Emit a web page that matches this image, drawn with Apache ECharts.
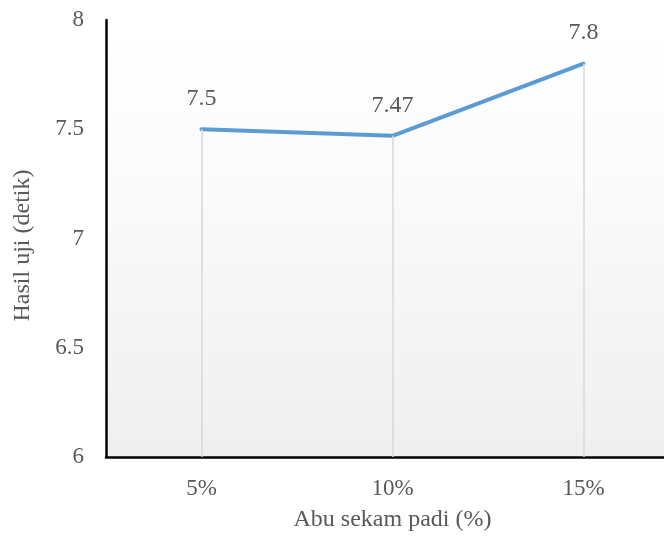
<!DOCTYPE html>
<html>
<head>
<meta charset="utf-8">
<script src="https://cdn.jsdelivr.net/npm/echarts@6/dist/echarts.min.js"></script>
<style>
  html, body { margin: 0; padding: 0; background: #ffffff; }
  #chart { width: 664px; height: 536px; }
</style>
</head>
<body>
<div id="chart"></div>
<script>
// Ash content of rice husk vs. test result
const categories = ['5%', '10%', '15%'];
const values = [7.5, 7.47, 7.8];
const yTicks = { min: 6, max: 8, interval: 0.5 };

const FONT = '"Liberation Serif", "Times New Roman", serif';
const TEXT = '#595959';

const chart = echarts.init(document.getElementById('chart'), null, { renderer: 'canvas' });

// vertical guide lines from each point down to the axis
const dropLines = values.map((v, i) => [
  { coord: [i, v] },
  { coord: [i, yTicks.min] }
]);

chart.setOption({
  animation: false,
  grid: {
    left: 106, width: 573, top: 20, height: 437,
    outerBoundsMode: 'none',
    containLabel: false,
    show: true,
    borderWidth: 0,
    backgroundColor: new echarts.graphic.LinearGradient(0, 0, 0, 1, [
      { offset: 0, color: '#ffffff' },
      { offset: 0.35, color: '#fbfbfb' },
      { offset: 1, color: '#efefef' }
    ])
  },
  xAxis: {
    type: 'category',
    data: categories,
    boundaryGap: true,
    name: 'Abu sekam padi (%)',
    nameLocation: 'middle',
    nameGap: 51,
    nameTextStyle: { fontFamily: FONT, fontSize: 24, color: TEXT },
    axisLine: { show: true, lineStyle: { color: '#000000', width: 2.5 } },
    axisTick: { show: false },
    axisLabel: { fontFamily: FONT, fontSize: 23, color: TEXT, margin: 20 },
    splitLine: { show: false }
  },
  yAxis: {
    type: 'value',
    min: yTicks.min, max: yTicks.max, interval: yTicks.interval,
    name: 'Hasil uji (detik)',
    nameLocation: 'middle',
    nameGap: 71,
    nameTextStyle: { fontFamily: FONT, fontSize: 24, color: TEXT, padding: [0, 14, 0, 0] },
    axisLine: { show: true, lineStyle: { color: '#000000', width: 2.5 } },
    axisTick: { show: false },
    axisLabel: { fontFamily: FONT, fontSize: 23, color: TEXT, margin: 22 },
    splitLine: { show: false }
  },
  series: [
    {
      type: 'line',
      data: [],
      z: 1,
      markLine: {
        silent: true,
        symbol: ['none', 'none'],
        label: { show: false },
        lineStyle: { color: '#d9d9d9', width: 1.5, type: 'solid' },
        data: dropLines
      }
    },
    {
      type: 'line',
      data: values,
      z: 3,
      symbol: 'circle',
      symbolSize: 1,
      showSymbol: true,
      itemStyle: { color: '#5b9bd5' },
      lineStyle: { color: '#5b9bd5', width: 4, cap: 'round', join: 'round' },
      label: {
        show: true,
        position: 'top',
        distance: 18,
        fontFamily: FONT,
        fontSize: 24,
        color: TEXT
      }
    }
  ]
});
</script>
</body>
</html>
